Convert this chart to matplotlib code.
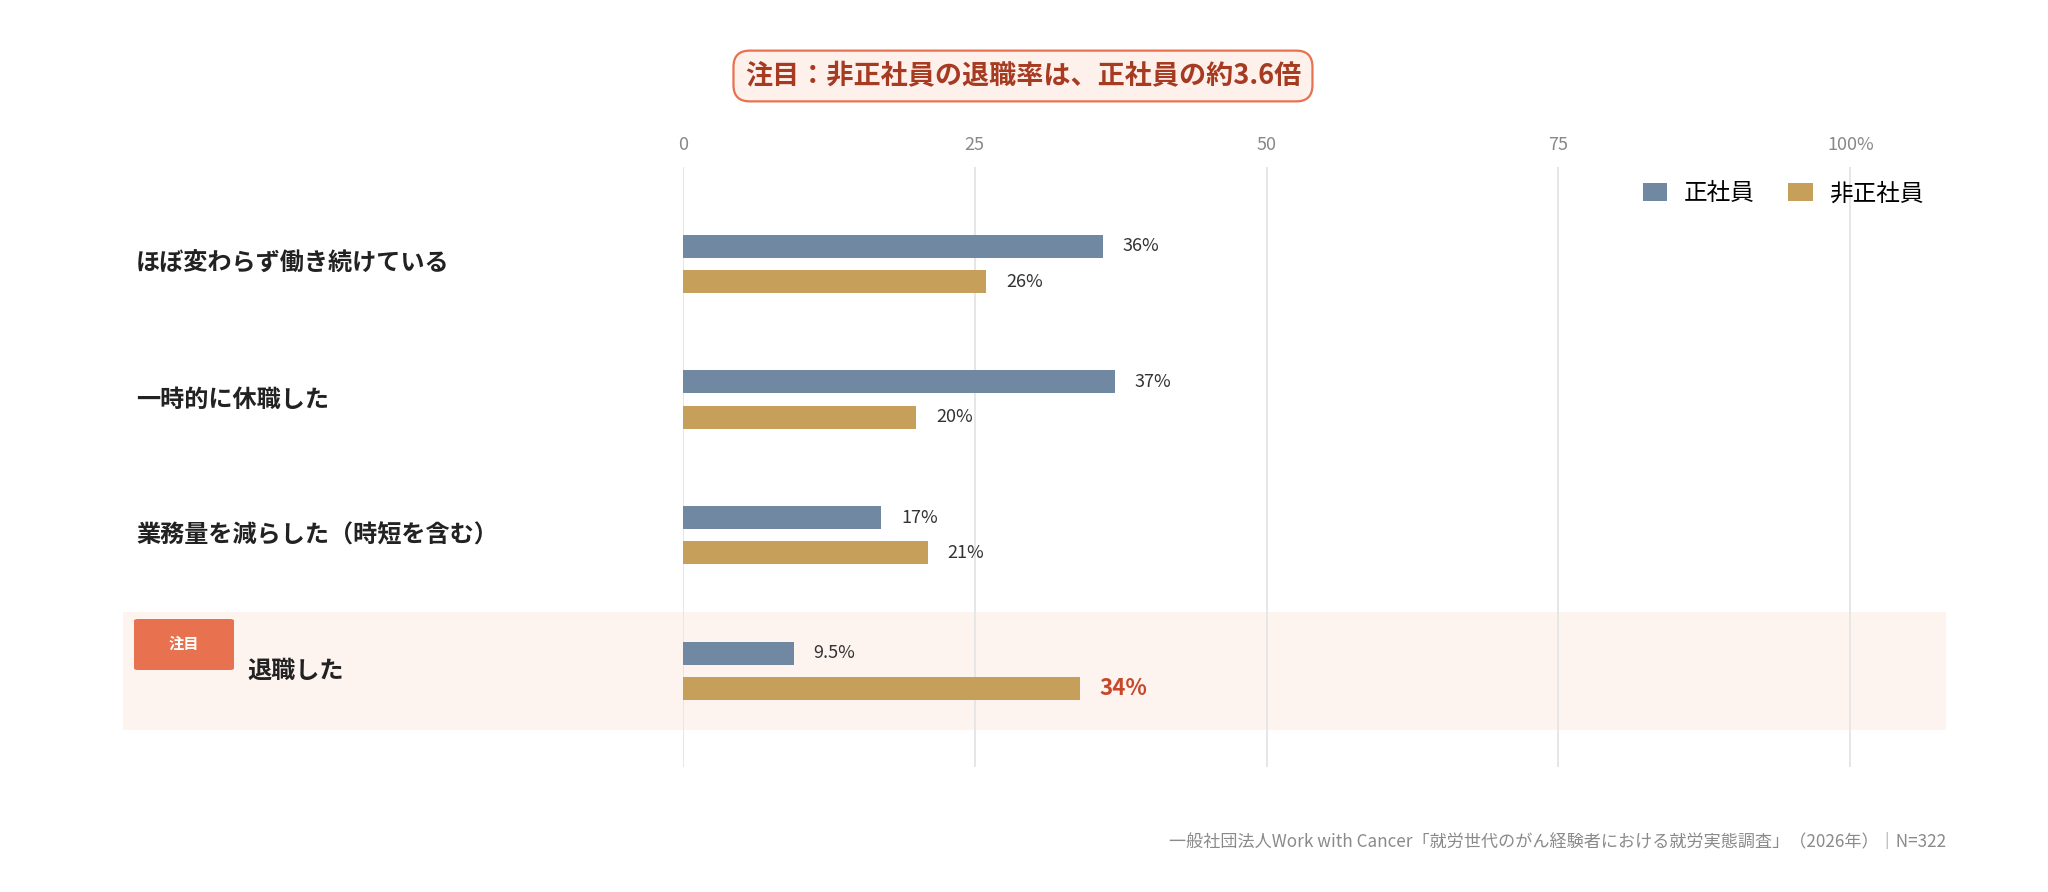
import matplotlib
matplotlib.use("Agg")
import matplotlib.pyplot as plt
from matplotlib.patches import Rectangle, FancyBboxPatch
from matplotlib.transforms import blended_transform_factory

plt.rcParams['font.family'] = ['Noto Sans CJK JP', 'DejaVu Sans']

# data
categories = ["ほぼ変わらず働き続けている", "一時的に休職した",
              "業務量を減らした（時短を含む）", "退職した"]
regular = [36, 37, 17, 9.5]
non_regular = [26, 20, 21, 34]
regular_labels = ["36%", "37%", "17%", "9.5%"]
non_regular_labels = ["26%", "20%", "21%", "34%"]
series_names = ["正社員", "非正社員"]
tick_values = [0, 25, 50, 75, 100]
tick_labels = ["0", "25", "50", "75", "100%"]
highlight_idx = 3

BLUE = "#7088a2"
GOLD = "#c6a05b"
ACCENT = "#e8714f"

fig = plt.figure(figsize=(20.48, 8.92), dpi=100)
ax = fig.add_axes([683 / 2048, 1 - 767 / 892, 1263 / 2048, 600 / 892])
ax.set_xlim(0, 108.2)
ax.set_ylim(3.71, -0.715)

mixed = blended_transform_factory(fig.transFigure, ax.transData)

# highlight band for the focus row
ax.add_patch(Rectangle((123 / 2048, highlight_idx - 0.435), (1946 - 123) / 2048, 0.87,
                       transform=mixed, facecolor="#fdf3ef", edgecolor="none",
                       zorder=0, clip_on=False))

for x in tick_values:
    ax.axvline(x, color="#e6e6e6", lw=1.4, zorder=1)

ypos = list(range(len(categories)))
off, h = 0.13, 0.17
ax.barh([y - off for y in ypos], regular, height=h, color=BLUE, zorder=2,
        label=series_names[0])
ax.barh([y + off for y in ypos], non_regular, height=h, color=GOLD, zorder=2,
        label=series_names[1])

for i, y in enumerate(ypos):
    ax.annotate(regular_labels[i], (regular[i], y - off), xytext=(14, 0),
                textcoords="offset points", va="center", ha="left",
                fontsize=13, color="#333333")
    if i == highlight_idx:
        ax.annotate(non_regular_labels[i], (non_regular[i], y + off), xytext=(14, 0),
                    textcoords="offset points", va="center", ha="left",
                    fontsize=16, fontweight="bold", color="#c8462a")
    else:
        ax.annotate(non_regular_labels[i], (non_regular[i], y + off), xytext=(14, 0),
                    textcoords="offset points", va="center", ha="left",
                    fontsize=13, color="#333333")

# category labels
for i, cat in enumerate(categories):
    x0 = 247 / 2048 if i == highlight_idx else 136 / 2048
    ax.text(x0, i, cat, transform=mixed, ha="left", va="center",
            fontsize=17.4, fontweight="bold", color="#222222")

# badge
fig.patches.append(FancyBboxPatch((134 / 2048, 1 - 670 / 892), 100 / 2048, 51 / 892,
                                  boxstyle="round,pad=0,rounding_size=0.002",
                                  transform=fig.transFigure, facecolor=ACCENT,
                                  edgecolor="none"))
fig.text(184 / 2048, 1 - 644 / 892, "注目", ha="center", va="center",
         fontsize=11, fontweight="bold", color="white")

# axes styling
ax.xaxis.tick_top()
ax.set_xticks(tick_values)
ax.set_xticklabels(tick_labels)
ax.tick_params(axis="x", length=0, pad=9, labelsize=13, labelcolor="#888888")
ax.set_yticks([])
for s in ax.spines.values():
    s.set_visible(False)
ax.patch.set_alpha(0)

fig.legend(loc="center right", bbox_to_anchor=(1945 / 2048, 1 - 194 / 892),
           ncol=2, frameon=False, fontsize=17, handlelength=1.05,
           handleheight=0.8, handletextpad=0.7, columnspacing=1.4)

fig.text(0.4995, 1 - 76 / 892, "注目：非正社員の退職率は、正社員の約3.6倍",
         ha="center", va="center", fontsize=19.5, fontweight="bold",
         color="#a63b22",
         bbox=dict(boxstyle="round,pad=0.42,rounding_size=0.6",
                   facecolor="#fef0eb", edgecolor=ACCENT, lw=1.6))

fig.text(1946 / 2048, 1 - 842 / 892,
         "一般社団法人Work with Cancer「就労世代のがん経験者における就労実態調査」（2026年）｜N=322",
         ha="right", va="center", fontsize=12.3, color="#8a8a8a")

fig.savefig("out.png", dpi=100, facecolor="white")
